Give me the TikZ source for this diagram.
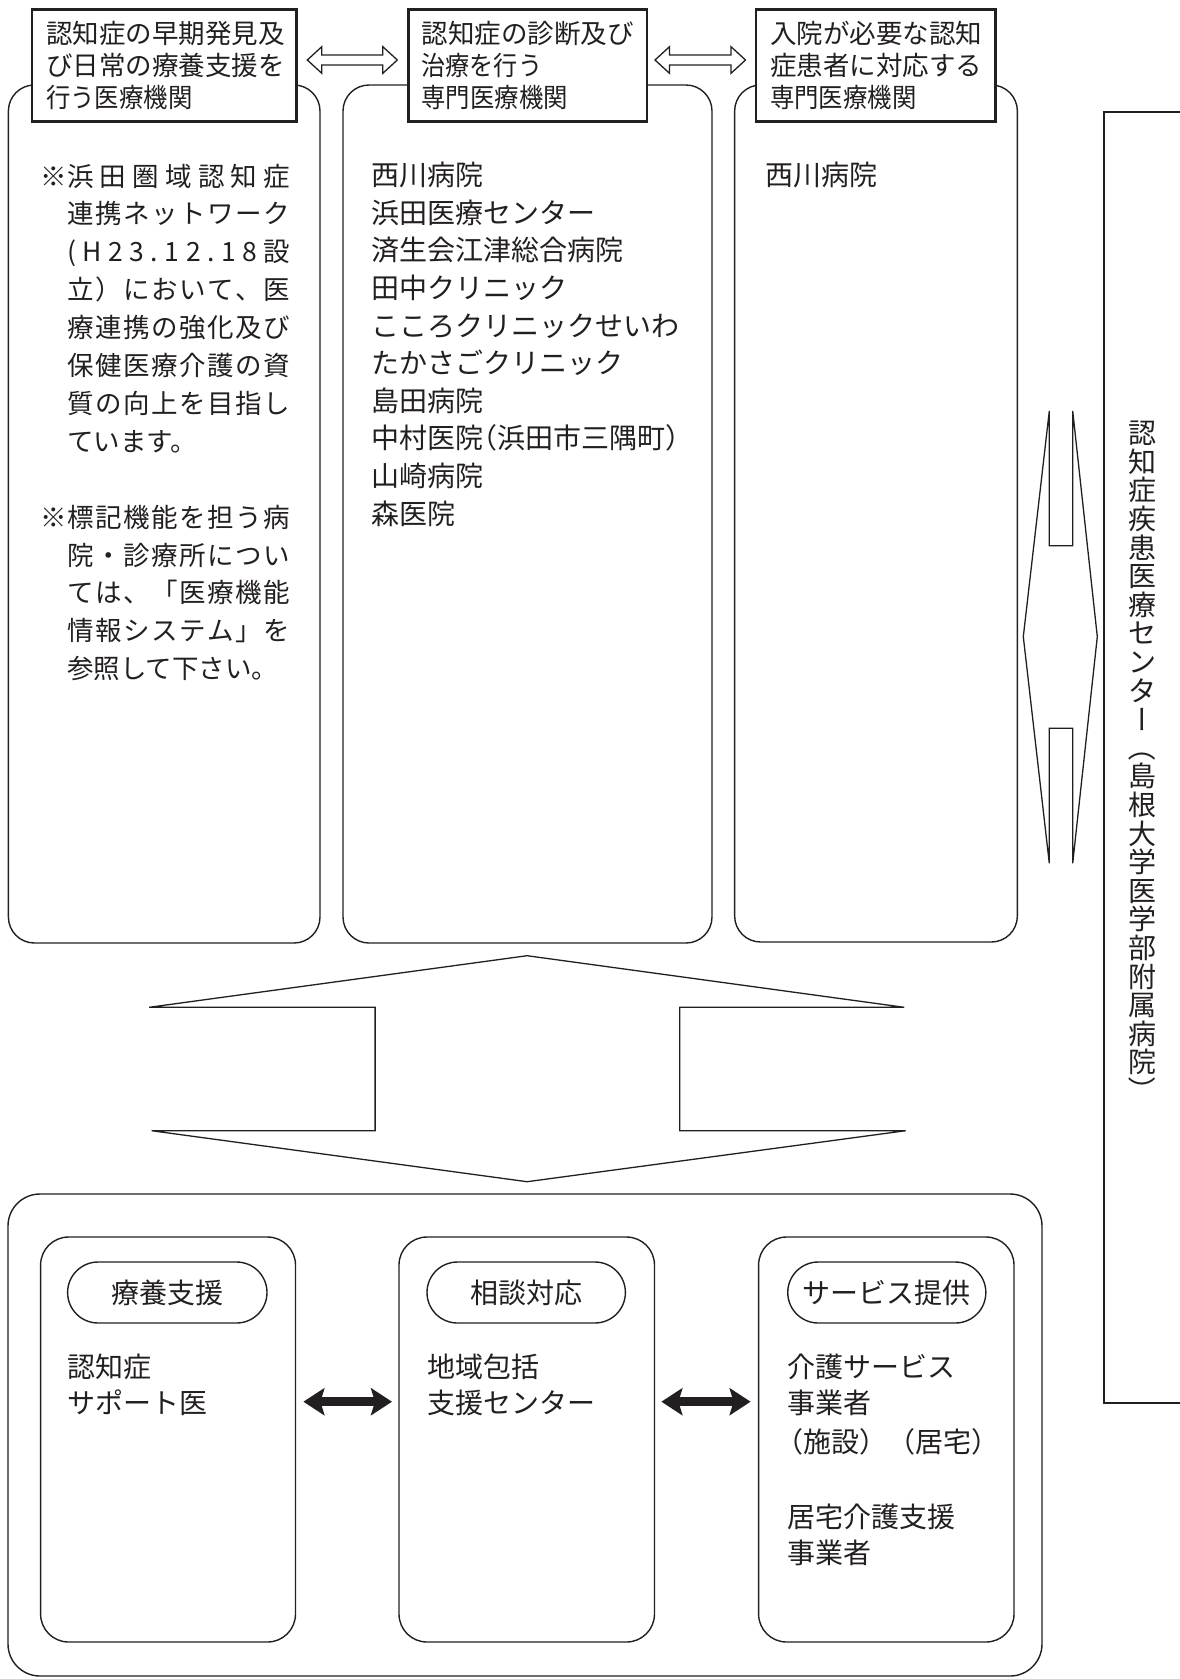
\documentclass[tikz,border=0pt]{standalone}
\usepackage{fontspec}
\usepackage{graphicx}
\setmainfont{Noto Sans CJK JP}
\usetikzlibrary{arrows.meta,calc}
\definecolor{ink}{RGB}{35,31,32}
\makeatletter
\def\sp@stop{\sp@stop}
\newcommand\spreadto[2]{\hbox to #1{\sp@first#2\sp@stop}}
\def\sp@first#1{#1\sp@next}
\def\sp@next#1{\ifx#1\sp@stop\else\hfil#1\expandafter\sp@next\fi}
\makeatother
\begin{document}
\begin{tikzpicture}[x=1pt,y=-1pt,
  rbox/.style={draw=ink, line width=1.4pt, rounded corners=26pt, inner sep=0pt},
  lbox/.style={draw=ink, line width=2.6pt, fill=white, inner sep=0pt},
  outl/.style={draw=ink, line width=1.3pt, fill=white, line join=miter},
  pill/.style={draw=ink, line width=1.4pt, rounded corners=30.5pt, minimum height=61pt, inner sep=0pt},
  f265/.style={font=\fontsize{26.5}{32}\selectfont, text=ink, text height=23.3pt, text depth=3.2pt, inner sep=0pt, anchor=west},
  f28/.style={font=\fontsize{28}{36}\selectfont, text=ink, text height=24.6pt, text depth=3.4pt, inner sep=0pt, anchor=west},
  blk/.style={draw=ink, line width=8.7pt, {Stealth[length=21pt,width=27pt,inset=4pt]}-{Stealth[length=21pt,width=27pt,inset=4pt]}}
]
\useasboundingbox (0,0) rectangle (1179,1679);

% ---------- top rounded boxes ----------
\node[rbox, minimum width=311.6pt, minimum height=858pt] (T1) at (164.2,514) {};
\node[rbox, minimum width=369pt, minimum height=858pt] (T2) at (527.5,514) {};
\node[rbox, minimum width=282.7pt, minimum height=857pt] (T3) at (876,513.5) {};

% ---------- label boxes ----------
\node[lbox, minimum width=264.8pt, minimum height=112.4pt] (LA) at (164.2,65.5) {};
\node[lbox, minimum width=238.4pt, minimum height=112.4pt] (LB) at (527.8,65.5) {};
\node[lbox, minimum width=239.3pt, minimum height=112.4pt] (LC) at (875.6,65.5) {};

\node[f265] (la1) at (46,33.5) {認知症の早期発見及};
\node[f265] (la2) at (46,65.5) {び日常の療養支援を};
\node[f265] (la3) at (46,97.5) {\scalebox{0.92}[1]{行う医療機関}};
\node[f265] (lb1) at (421.4,33.5) {認知症の診断及び};
\node[f265] (lb2) at (421.4,65.5) {\scalebox{0.91}[1]{治療を行う}};
\node[f265] (lb3) at (421.4,97.5) {\scalebox{0.92}[1]{専門医療機関}};
\node[f265] (lc1) at (770,33.5) {入院が必要な認知};
\node[f265] (lc2) at (770,65.5) {症患者に対応する};
\node[f265] (lc3) at (770,97.5) {\scalebox{0.92}[1]{専門医療機関}};

% ---------- hollow double arrows between label boxes ----------
\draw[outl] (307.3,60) -- (321.8,46.7) -- (321.8,55) -- (382.8,55) -- (382.8,46.7) -- (397.3,60)
  -- (382.8,73.3) -- (382.8,65) -- (321.8,65) -- (321.8,73.3) -- cycle;
\draw[outl] (655,60) -- (669.5,46.7) -- (669.5,55) -- (731,55) -- (731,46.7) -- (745.5,60)
  -- (731,73.3) -- (731,65) -- (669.5,65) -- (669.5,73.3) -- cycle;

% ---------- left column ----------
\node[f265] (k1) at (40,176) {※};
\node[f265] (c1) at (67,176) {\spreadto{223pt}{浜田圏域認知症}};
\node[f265] (c2) at (67,213.9) {\spreadto{223pt}{連携ネットワーク}};
\node[f265] (c3) at (67,251.8) {\spreadto{223pt}{(H23.12.18設}};
\node[f265] (c4) at (67,289.7) {\spreadto{223pt}{立）において、医}};
\node[f265] (c5) at (67,327.6) {\spreadto{223pt}{療連携の強化及び}};
\node[f265] (c6) at (67,365.5) {\spreadto{223pt}{保健医療介護の資}};
\node[f265] (c7) at (67,403.4) {\spreadto{223pt}{質の向上を目指し}};
\node[f265] (c8) at (67,441.3) {ています。};
\node[f265] (k2) at (40,517.1) {※};
\node[f265] (d1) at (67,517.1) {\spreadto{223pt}{標記機能を担う病}};
\node[f265] (d2) at (67,555) {\spreadto{223pt}{院・診療所につい}};
\node[f265] (d3) at (67,592.9) {\spreadto{223pt}{ては、「医療機能}};
\node[f265] (d4) at (67,630.8) {\spreadto{223pt}{情報システム」を}};
\node[f265] (d5) at (67,668.7) {参照して下さい。};

% ---------- middle column ----------
\foreach \t [count=\i from 0] in {西川病院,浜田医療センター,済生会江津総合病院,田中クリニック,こころクリニックせいわ,たかさごクリニック,島田病院,{中村医院\kern-0.5em（浜田市三隅町）},山崎病院,森医院}
  \node[f28] (m\i) at (371.7,175+\i*37.6) {\t};

% ---------- right column ----------
\node[f28] (r1) at (765,175) {西川病院};

% ---------- right tall box with vertical text ----------
\node[draw=ink, line width=1.4pt, minimum width=91pt, minimum height=1291pt, inner sep=0pt] (R) at (1149.5,757.5) {};
\foreach \c/\r [count=\i from 0] in {認/0,知/0,症/0,疾/0,患/0,医/0,療/0,セ/0,ン/0,タ/0,ー/-90,（/-90,島/0,根/0,大/0,学/0,医/0,学/0,部/0,附/0,属/0,病/0,院/0,）/-90}
  \node[f28, anchor=center, rotate=\r] (v\i) at (1142,433+\i*28.6) {\c};

% ---------- vertical double arrow ----------
\draw[outl] (1049.3,411) -- (1049.3,545.7) -- (1072.7,545.7) -- (1072.7,411) -- (1097.3,636.7)
  -- (1072.7,863.3) -- (1072.7,728.3) -- (1049.3,728.3) -- (1049.3,863.3) -- (1023.3,636.7) -- cycle;

% ---------- big horizontal double arrow ----------
\draw[outl] (527.1,955.7) -- (904.2,1007.3) -- (679.7,1007.3) -- (679.7,1130.7) -- (905.7,1130.7)
  -- (527.1,1181.7) -- (151.6,1130.7) -- (375.1,1130.7) -- (375.1,1007.3) -- (149.1,1007.3) -- cycle;

% ---------- bottom section ----------
\node[rbox, rounded corners=32pt, minimum width=1034pt, minimum height=482pt] (BO) at (525,1435) {};
\node[rbox, rounded corners=28pt, minimum width=254.9pt, minimum height=405pt] (I1) at (168.05,1439.5) {};
\node[rbox, rounded corners=28pt, minimum width=255.5pt, minimum height=405pt] (I2) at (526.75,1439.5) {};
\node[rbox, rounded corners=28pt, minimum width=255.4pt, minimum height=405pt] (I3) at (886.3,1439.5) {};

\node[pill, minimum width=199.4pt, font=\fontsize{28}{36}\selectfont, text=ink] (P1) at (167.3,1292.5) {療養支援};
\node[pill, minimum width=198.4pt, font=\fontsize{28}{36}\selectfont, text=ink] (P2) at (526.2,1292.5) {相談対応};
\node[pill, minimum width=198.1pt, font=\fontsize{28}{36}\selectfont, text=ink] (P3) at (886.8,1292.5) {サービス提供};

\node[f28] (b11) at (67.6,1366.7) {認知症};
\node[f28] (b12) at (67.6,1403) {サポート医};
\node[f28] (b21) at (427.3,1366.7) {地域包括};
\node[f28] (b22) at (427.3,1403) {支援センター};
\node[f28] (b31) at (787.7,1366.7) {介護サービス};
\node[f28] (b32) at (787.7,1403) {事業者};
\node[f28] (b33) at (787.7,1441.7) {\kern-0.45em（施設）（居宅）};
\node[f28] (b34) at (787.7,1516.7) {居宅介護支援};
\node[f28] (b35) at (787.7,1553.3) {事業者};

\coordinate (ay) at (0,1401.7);
\draw[blk, shorten <=7.2pt, shorten >=6.3pt] (ay -| I1.east) -- (ay -| I2.west);
\draw[blk, shorten <=6.2pt, shorten >=7.3pt] (ay -| I2.east) -- (ay -| I3.west);
\end{tikzpicture}
\end{document}
